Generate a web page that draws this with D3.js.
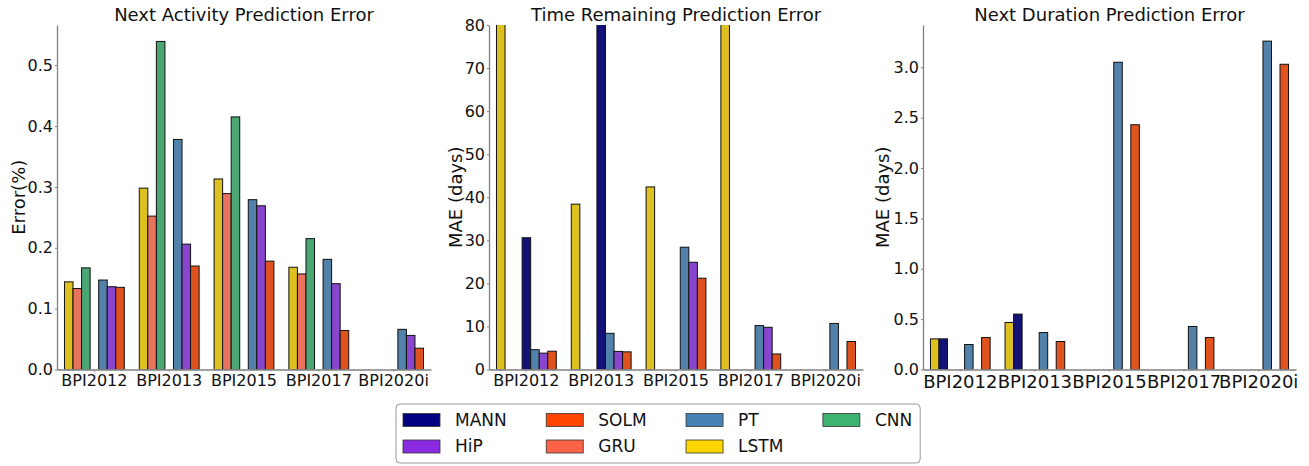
<!DOCTYPE html>
<html>
<head>
<meta charset="utf-8">
<script src="https://cdn.jsdelivr.net/npm/d3@7"></script>
<style>
  body { margin: 0; background: #fff; }
  svg { font-family: "DejaVu Sans", sans-serif; }
</style>
</head>
<body>
<div id="chart"></div>
<script>
// Chart data
const datasets = ["BPI2012", "BPI2013", "BPI2015", "BPI2017", "BPI2020i"];
const models = ["MANN", "SOLM", "PT", "CNN", "HiP", "GRU", "LSTM"];
const legendColors = ["#000080", "#FF4500", "#4682B4", "#3CB371", "#8A2BE2", "#FF6347", "#FFD700"];
const barColors = ["#131377", "#E0531F", "#5282AA", "#4AA673", "#8A45CE", "#E8735F", "#DEC120"];

// Next activity prediction error
const actLSTM = [0.144, 0.298, 0.313, 0.168, null];
const actGRU  = [0.133, 0.252, 0.289, 0.157, null];
const actCNN  = [0.167, 0.539, 0.415, 0.215, null];
const actPT   = [0.147, 0.378, 0.279, 0.181, 0.066];
const actHiP  = [0.136, 0.206, 0.269, 0.141, 0.056];
const actSOLM = [0.135, 0.170, 0.178, 0.064, 0.035];

// Time remaining prediction error (values above 80 are cut off in the figure)
const remLSTM = [120, 38.4, 42.4, 95, null];
const remMANN = [30.6, 110, null, null, null];
const remPT   = [4.6, 8.4, 28.4, 10.2, 10.7];
const remHiP  = [3.8, 4.2, 24.9, 9.8, null];
const remSOLM = [4.25, 4.1, 21.2, 3.6, 6.5];

// Next duration prediction error
const durLSTM = [0.304, 0.467, null, null, null];
const durMANN = [0.304, 0.55, null, null, null];
const durPT   = [0.248, 0.367, 3.05, 0.427, 3.26];
const durSOLM = [0.318, 0.278, 2.43, 0.318, 3.03];

const actTicks = [0, 0.1, 0.2, 0.3, 0.4, 0.5];
const remTicks = [0, 10, 20, 30, 40, 50, 60, 70, 80];
const durTicks = [0, 0.5, 1.0, 1.5, 2.0, 2.5, 3.0];

const width = 1309, height = 466;
const svg = d3.select("#chart").append("svg")
    .attr("width", width)
    .attr("height", height);

const barColor = d3.scaleOrdinal().domain(models).range(barColors);
const legColor = d3.scaleOrdinal().domain(models).range(legendColors);

const panels = [
  { title: "Next Activity Prediction Error", ylabel: "Error(%)", left: 57, right: 431, labelX: 18,
    yMax: 0.566, ticks: actTicks, fmt: d3.format(".1f"), xFont: 16,
    slots: ["LSTM", "GRU", "CNN", "MANN", "PT", "HiP", "SOLM"],
    values: { LSTM: actLSTM, GRU: actGRU, CNN: actCNN, PT: actPT, HiP: actHiP, SOLM: actSOLM } },
  { title: "Time Remaining Prediction Error", ylabel: "MAE (days)", left: 489, right: 863, labelX: 455,
    yMax: 80, ticks: remTicks, fmt: d3.format("d"), xFont: 16,
    slots: ["LSTM", "GRU", "CNN", "MANN", "PT", "HiP", "SOLM"],
    values: { LSTM: remLSTM, MANN: remMANN, PT: remPT, HiP: remHiP, SOLM: remSOLM } },
  { title: "Next Duration Prediction Error", ylabel: "MAE (days)", left: 923, right: 1296, labelX: 882,
    yMax: 3.42, ticks: durTicks, fmt: d3.format(".1f"), xFont: 18,
    slots: ["LSTM", "MANN", "GRU", "CNN", "PT", "HiP", "SOLM"],
    values: { LSTM: durLSTM, MANN: durMANN, PT: durPT, SOLM: durSOLM } }
];

const plotTop = 25, plotBottom = 369.5;

panels.forEach((p, pi) => {
  const g = svg.append("g");

  const x = d3.scaleBand().domain(datasets).range([p.left, p.right]);
  const y = d3.scaleLinear().domain([0, p.yMax]).range([plotBottom, plotTop]);
  const groupW = x.bandwidth() * 0.8;
  const slot = d3.scaleBand().domain(p.slots).range([-groupW / 2, groupW / 2]);

  // clip so bars above the y limit are cut
  g.append("clipPath").attr("id", "clip" + pi)
    .append("rect")
      .attr("x", p.left).attr("y", plotTop)
      .attr("width", p.right - p.left).attr("height", plotBottom - plotTop);

  const bars = [];
  Object.keys(p.values).forEach(m => {
    p.values[m].forEach((v, i) => {
      if (v != null) bars.push({ model: m, ds: datasets[i], value: v });
    });
  });

  g.append("g")
      .attr("clip-path", `url(#clip${pi})`)
    .selectAll("rect")
    .data(bars)
    .enter().append("rect")
      .attr("x", d => x(d.ds) + x.bandwidth() / 2 + slot(d.model))
      .attr("y", d => y(d.value))
      .attr("width", slot.bandwidth())
      .attr("height", d => plotBottom - y(d.value))
      .attr("fill", d => barColor(d.model))
      .attr("stroke", "#111")
      .attr("stroke-width", 1);

  // axes
  const yAxis = g.append("g")
      .attr("transform", `translate(${p.left},0)`)
      .call(d3.axisLeft(y).tickValues(p.ticks).tickFormat(p.fmt).tickSize(2).tickSizeOuter(0).tickPadding(2));
  const xAxis = g.append("g")
      .attr("transform", `translate(0,${plotBottom})`)
      .call(d3.axisBottom(x).tickSize(2).tickSizeOuter(0).tickPadding(2));

  [yAxis, xAxis].forEach(a => {
    a.select(".domain").attr("stroke", "#808080").attr("stroke-width", 1.3);
    a.selectAll(".tick line").attr("stroke", "#808080");
    a.selectAll("text").attr("fill", "#111").style("font-family", "DejaVu Sans");
  });
  yAxis.selectAll("text").style("font-size", "16px");
  xAxis.selectAll("text").style("font-size", p.xFont + "px").attr("dy", "0.8em");

  // title and y label
  g.append("text")
      .attr("x", (p.left + p.right) / 2)
      .attr("y", 21)
      .attr("text-anchor", "middle")
      .style("font-size", "18px")
      .attr("fill", "#111")
      .text(p.title);

  g.append("text")
      .attr("transform", `translate(${p.labelX + 6.5},${(plotTop + plotBottom) / 2}) rotate(-90)`)
      .attr("text-anchor", "middle")
      .style("font-size", "18px")
      .attr("fill", "#111")
      .text(p.ylabel);
});

// Legend
const legend = svg.append("g");
const legBox = legend.append("rect")
    .attr("y", 404).attr("height", 59)
    .attr("rx", 4)
    .attr("fill", "#fff")
    .attr("stroke", "#999")
    .attr("stroke-width", 1);

const nCols = 4;
let colX = 403;
let lastEnd = 0;
for (let c = 0; c < nCols; c++) {
  const colModels = models.filter((m, i) => i % nCols === c);
  let maxW = 0;
  colModels.forEach((m, r) => {
    const item = legend.append("g");
    item.append("rect")
        .attr("x", colX).attr("y", 413.5 + r * 26.5)
        .attr("width", 37).attr("height", 13)
        .attr("fill", legColor(m))
        .attr("stroke", "#333").attr("stroke-width", 0.8);
    const t = item.append("text")
        .attr("x", colX + 52).attr("y", 420 + r * 26.5)
        .attr("dy", "0.35em")
        .style("font-size", "17px")
        .attr("fill", "#111")
        .text(m);
    maxW = Math.max(maxW, t.node().getComputedTextLength());
  });
  lastEnd = colX + 52 + maxW;
  colX = lastEnd + 39.5;
}
legBox.attr("x", 396).attr("width", lastEnd + 8 - 396);
</script>
</body>
</html>
